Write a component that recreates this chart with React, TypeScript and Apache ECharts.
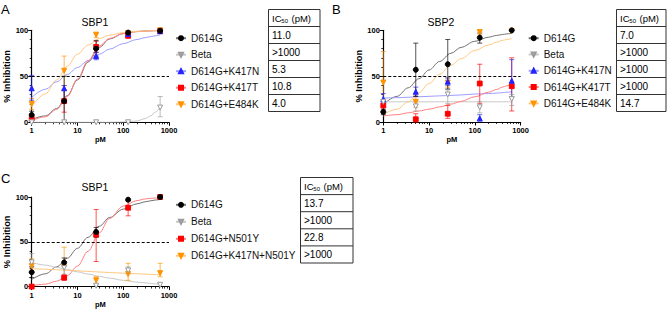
import React, { useEffect, useRef } from "react";
import * as echarts from "echarts";

// ---------- data ----------
const conc = [1, 5.12, 25.6, 128, 640];
const curveX = [1, 2, 3.5, 6, 10, 17, 30, 50, 100, 200, 300, 400, 500, 640];
const xTickLabels = ["1", "10", "100", "1000"];
const yTickLabels = ["0", "50", "100"];

// Panel A – SBP1
const aD614G = [8, 23, 80, 97.5, 99.5];
const aBeta = [0, 0, 0, 0, 16];
const aK417N = [37, 37, 72, 96, 99];
const aK417T = [4, 23, 82, 94, 99];
const aE484K = [20, 56, 95, 97, 100];
const aD614GErr = [[4, 12], [0, 50], [72, 89], [95, 99], null];
const aBetaErr = [null, null, null, null, [6, 28]];
const aK417NErr = [[24, 51], [25, 40], [68, 76], null, null];
const aK417TErr = [[2, 7], [11, 35], [76, 88], [92, 96], null];
const aE484KErr = [[14, 26], [40, 72], [92, 98], null, null];
const aD614GFit = [3, 7, 15, 29, 46, 65.5, 81.5, 90.5, 96.5, 98.7, 99.3, 99.5, 99.7, 99.8];
const aBetaFit = [0, 0, 0, 0, 0, 0, 0, 0, 0.3, 1.5, 4, 7, 11, 16];
const aK417NFit = [27, 36, 44, 52, 59.5, 67, 74, 79.5, 85.5, 90, 92, 93.2, 94, 95];
const aK417TFit = [2, 6, 14, 28, 47, 67, 83, 91, 96.5, 98.5, 99, 99.3, 99.5, 99.6];
const aE484KFit = [17, 31, 46, 61, 74, 84, 91, 94.7, 97.5, 98.9, 99.3, 99.5, 99.6, 99.7];
const aIC50 = ["11.0", ">1000", "5.3", "10.8", "4.0"];

// Panel B – SBP2
const bD614G = [11, 57, 63, 92, 100];
const bBeta = [22, 17, 30, 16, 25];
const bK417N = [25, 33, 44, 4, 45];
const bK417T = [18, 3, 9, 42, 39];
const bE484K = [43, 22, 43, 98, 99];
const bD614GErr = [[8, 14], [28, 86], [36, 90], [86, 97], null];
const bBetaErr = [null, [12, 22], [20, 35], [10, 22], [18, 30]];
const bK417NErr = [[21, 31], [28, 38], [40, 48], [1, 8], [27, 68]];
const bK417TErr = [[12, 23], [0, 9], [4, 18], [20, 63], [12, 70]];
const bE484KErr = [[10, 77], [16, 28], [38, 48], [95, 100], null];
const bD614GFit = [19, 28, 37.3, 47.2, 56.7, 66, 74.9, 81.4, 88, 92.5, 94.4, 95.4, 96.1, 96.7];
const bBetaFit = [22, 22, 22, 22, 22, 22, 22, 22, 22, 22, 22, 22, 22, 22];
const bK417NFit = [26, 26.5, 27, 27.5, 28, 28.5, 29, 29.5, 30.5, 31, 31.5, 32, 32.5, 33];
const bK417TFit = [6.5, 8, 10, 12, 14, 16.5, 19.5, 22.5, 27.5, 32.5, 35.5, 38, 39.5, 41];
const bE484KFit = [8, 14, 22, 32, 42, 52, 62, 69, 78, 84, 87, 89, 90, 91];
const bIC50 = ["7.0", ">1000", ">1000", ">1000", "14.7"];

// Panel C – SBP1
const cD614G = [16, 27, 61, 97, 100];
const cBeta = [27, 21, 1, 18, 2];
const cN501Y = [0, 10, 58, 88, 100];
const cK417NN501Y = [23, 22, 7, 14, 15];
const cD614GErr = [[10, 22], [23, 32], [55, 66], null, null];
const cBetaErr = [[22, 37], [14, 24], null, [14, 22], null];
const cN501YErr = [null, [7, 13], [28, 86], [79, 95], null];
const cK417NN501YErr = [[18, 31], [8, 44], [2, 11], [7, 26], [11, 26]];
const cD614GFit = [8, 14.3, 22, 31.7, 42.7, 55, 67.4, 77, 86.4, 92.4, 94.6, 95.8, 96.6, 97.3];
const cBetaFit = [27, 24, 21.5, 19, 16.5, 14, 11.5, 9.5, 7, 5, 4.2, 3.5, 3, 2.5];
const cN501YFit = [1, 2.7, 6, 12.3, 22.9, 39.4, 60, 76, 89.8, 96, 97.8, 98.5, 98.9, 99.3];
const cK417NN501YFit = [20, 19.4, 18.8, 18.2, 17.6, 17, 16.3, 15.7, 15, 14.3, 13.9, 13.6, 13.3, 12.9];
const cIC50 = ["13.7", ">1000", "22.8", ">1000"];

// ---------- styles ----------
const FONT = '"Liberation Sans", Arial, Helvetica, sans-serif';
const STY: Record<string, any> = {
  black: { mark: "#000000", line: "#707070", symbol: "circle", rotate: 0, fill: "#000000", size: 5 },
  grey: { mark: "#9b9b9b", line: "#c8c8c8", symbol: "triangle", rotate: 180, fill: "#ffffff", size: 5 },
  blue: { mark: "#2424ff", line: "#9d9dff", symbol: "triangle", rotate: 0, fill: "#2424ff", size: 5 },
  red: { mark: "#ff0000", line: "#ff8080", symbol: "rect", rotate: 0, fill: "#ff0000", size: 4.8 },
  orange: { mark: "#ff9300", line: "#ffc880", symbol: "triangle", rotate: 180, fill: "#ff9300", size: 5 },
};

type Variant = { name: string; pts: number[]; err: any[]; fit: number[]; sty: string };

const panels: { title: string; letter: string; variants: Variant[]; ic50: string[] }[] = [
  {
    title: "SBP1",
    letter: "A",
    ic50: aIC50,
    variants: [
      { name: "D614G", pts: aD614G, err: aD614GErr, fit: aD614GFit, sty: "black" },
      { name: "Beta", pts: aBeta, err: aBetaErr, fit: aBetaFit, sty: "grey" },
      { name: "D614G+K417N", pts: aK417N, err: aK417NErr, fit: aK417NFit, sty: "blue" },
      { name: "D614G+K417T", pts: aK417T, err: aK417TErr, fit: aK417TFit, sty: "red" },
      { name: "D614G+E484K", pts: aE484K, err: aE484KErr, fit: aE484KFit, sty: "orange" },
    ],
  },
  {
    title: "SBP2",
    letter: "B",
    ic50: bIC50,
    variants: [
      { name: "D614G", pts: bD614G, err: bD614GErr, fit: bD614GFit, sty: "black" },
      { name: "Beta", pts: bBeta, err: bBetaErr, fit: bBetaFit, sty: "grey" },
      { name: "D614G+K417N", pts: bK417N, err: bK417NErr, fit: bK417NFit, sty: "blue" },
      { name: "D614G+K417T", pts: bK417T, err: bK417TErr, fit: bK417TFit, sty: "red" },
      { name: "D614G+E484K", pts: bE484K, err: bE484KErr, fit: bE484KFit, sty: "orange" },
    ],
  },
  {
    title: "SBP1",
    letter: "C",
    ic50: cIC50,
    variants: [
      { name: "D614G", pts: cD614G, err: cD614GErr, fit: cD614GFit, sty: "black" },
      { name: "Beta", pts: cBeta, err: cBetaErr, fit: cBetaFit, sty: "grey" },
      { name: "D614G+N501Y", pts: cN501Y, err: cN501YErr, fit: cN501YFit, sty: "red" },
      { name: "D614G+K417N+N501Y", pts: cK417NN501Y, err: cK417NN501YErr, fit: cK417NN501YFit, sty: "orange" },
    ],
  },
];

// layout
const GRIDS = [
  { left: 31.7, top: 30.3, width: 137.3, height: 92 },
  { left: 383.3, top: 30.3, width: 137.3, height: 91.7 },
  { left: 31.7, top: 197, width: 137.3, height: 91.3 },
];
const LEGENDS = [
  { left: 175, top: 33.2, gap: 6.5 },
  { left: 527.7, top: 33.2, gap: 6.3 },
  { left: 175, top: 199.8, gap: 7 },
];
const TABLES = [
  { x: 268.5, y: 9.5, w: 51.5, rowH: 17 },
  { x: 616.5, y: 9.5, w: 49.5, rowH: 17 },
  { x: 300.5, y: 177.5, w: 52.5, rowH: 17.1 },
];
const LETTERS = [
  { x: 1, y: 9 },
  { x: 332, y: 9 },
  { x: 1, y: 178 },
];
const TITLES = [
  { x: 95, y: 22 },
  { x: 441, y: 22 },
  { x: 95, y: 187 },
];

function tableElems(t: any, values: string[]) {
  const els: any[] = [];
  const n = values.length + 1;
  els.push({
    type: "rect",
    shape: { x: t.x, y: t.y, width: t.w, height: t.rowH * n },
    style: { fill: "#ffffff", stroke: "#333333", lineWidth: 1 },
    silent: true,
  });
  for (let i = 1; i < n; i++) {
    els.push({
      type: "line",
      shape: { x1: t.x, y1: t.y + t.rowH * i, x2: t.x + t.w, y2: t.y + t.rowH * i },
      style: { stroke: "#333333", lineWidth: 1 },
      silent: true,
    });
  }
  const tx = t.x + 3.5;
  const hy = t.y + t.rowH / 2;
  els.push({ type: "text", silent: true, style: { text: "IC", x: tx, y: hy, fontSize: 9.5, fontFamily: FONT, fill: "#000", verticalAlign: "middle", align: "left" } });
  els.push({ type: "text", silent: true, style: { text: "50", x: tx + 9.3, y: hy + 2.5, fontSize: 6, fontFamily: FONT, fill: "#000", verticalAlign: "middle", align: "left" } });
  els.push({ type: "text", silent: true, style: { text: "(pM)", x: tx + 19.5, y: hy, fontSize: 9.5, fontFamily: FONT, fill: "#000", verticalAlign: "middle", align: "left" } });
  values.forEach((v, i) => {
    els.push({
      type: "text",
      silent: true,
      style: { text: v, x: tx, y: t.y + t.rowH * (i + 1) + t.rowH / 2, fontSize: 10, fontFamily: FONT, fill: "#000", verticalAlign: "middle", align: "left" },
    });
  });
  return els;
}

function buildOption() {
  const grid: any[] = [];
  const xAxis: any[] = [];
  const yAxis: any[] = [];
  const series: any[] = [];
  const legend: any[] = [];
  const graphic: any[] = [];

  panels.forEach((p, i) => {
    grid.push({ ...GRIDS[i], containLabel: false });
    xAxis.push({
      type: "log",
      gridIndex: i,
      logBase: 10,
      min: 1,
      max: 1000,
      name: "pM",
      nameLocation: "middle",
      nameGap: 12.5,
      nameTextStyle: { fontSize: 7.5, fontWeight: "bold", color: "#000", fontFamily: FONT },
      axisLine: { show: true, onZero: false, lineStyle: { color: "#000", width: 1.2 } },
      axisTick: { show: true, inside: false, length: 3.5, lineStyle: { color: "#000", width: 1 } },
      minorTick: { show: true, splitNumber: 9, length: 2, lineStyle: { color: "#000", width: 0.8 } },
      axisLabel: {
        fontSize: 7.5,
        fontWeight: "bold",
        color: "#000",
        margin: 4.5,
        fontFamily: FONT,
        formatter: (v: number) => xTickLabels[Math.round(Math.log10(v))] ?? String(v),
      },
      splitLine: { show: false },
      minorSplitLine: { show: false },
    });
    yAxis.push({
      type: "value",
      gridIndex: i,
      min: 0,
      max: 100,
      interval: 50,
      name: "% Inhibition",
      nameLocation: "middle",
      nameGap: 20,
      nameTextStyle: { fontSize: 9.3, fontWeight: "bold", color: "#000", fontFamily: FONT },
      axisLine: { show: true, onZero: false, lineStyle: { color: "#000", width: 1.2 } },
      axisTick: { show: true, inside: false, length: 3.5, lineStyle: { color: "#000", width: 1 } },
      minorTick: { show: true, splitNumber: 5, length: 2, lineStyle: { color: "#000", width: 0.8 } },
      axisLabel: {
        fontSize: 7.5,
        fontWeight: "bold",
        color: "#000",
        margin: 3.5,
        fontFamily: FONT,
        formatter: (v: number) => yTickLabels[Math.round(v / 50)] ?? String(v),
      },
      splitLine: { show: false },
    });

    const n = p.variants.length;
    // curves (legend icons taken from these: line + marker); earlier datasets on top
    p.variants.forEach((v, k) => {
      const s = STY[v.sty];
      series.push({
        type: "line",
        name: v.name,
        xAxisIndex: i,
        yAxisIndex: i,
        data: curveX.map((x, j) => [x, v.fit[j]]),
        smooth: 0.35,
        smoothMonotone: "x",
        showSymbol: false,
        symbol: s.symbol,
        symbolSize: s.size,
        symbolRotate: s.rotate,
        itemStyle: { color: s.fill, borderColor: s.mark, borderWidth: 1 },
        lineStyle: { color: s.line, width: 1 },
        silent: true,
        z: 2,
        zlevel: 0,
        markLine:
          k === 0
            ? {
                silent: true,
                symbol: "none",
                label: { show: false },
                lineStyle: { type: [3, 2], color: "#000", width: 1.2 },
                data: [{ yAxis: 50 }],
              }
            : undefined,
      });
    });
    // error bars
    p.variants.forEach((v, k) => {
      const s = STY[v.sty];
      const d: any[] = [];
      conc.forEach((x, j) => {
        if (v.err[j]) d.push([x, v.err[j][0], v.err[j][1]]);
      });
      series.push({
        type: "custom",
        name: v.name + " SD",
        xAxisIndex: i,
        yAxisIndex: i,
        data: d,
        encode: { x: 0, y: [1, 2] },
        silent: true,
        z: 3 + (n - k) * 0.01,
        renderItem: (params: any, api: any) => {
          const x = api.value(0);
          const lo = api.coord([x, api.value(1)]);
          const hi = api.coord([x, api.value(2)]);
          const w = 2.5;
          const st = { stroke: s.mark, lineWidth: 0.9, opacity: 0.75 };
          return {
            type: "group",
            children: [
              { type: "line", shape: { x1: lo[0], y1: lo[1], x2: hi[0], y2: hi[1] }, style: st },
              { type: "line", shape: { x1: lo[0] - w, y1: lo[1], x2: lo[0] + w, y2: lo[1] }, style: st },
              { type: "line", shape: { x1: hi[0] - w, y1: hi[1], x2: hi[0] + w, y2: hi[1] }, style: st },
            ],
          };
        },
      });
    });
    // markers (first dataset drawn on top)
    p.variants.forEach((v, k) => {
      const s = STY[v.sty];
      series.push({
        type: "scatter",
        name: v.name,
        xAxisIndex: i,
        yAxisIndex: i,
        data: conc.map((x, j) => [x, v.pts[j]]),
        symbol: s.symbol,
        symbolSize: s.size,
        symbolRotate: s.rotate,
        itemStyle: { color: s.fill, borderColor: s.mark, borderWidth: 1, opacity: 1 },
        silent: true,
        z: 4 + (n - k) * 0.1,
      });
    });

    legend.push({
      orient: "vertical",
      left: LEGENDS[i].left,
      top: LEGENDS[i].top,
      itemWidth: 10,
      itemHeight: 5,
      itemGap: LEGENDS[i].gap,
      selectedMode: false,
      padding: 0,
      data: p.variants.map((v) => v.name),
      textStyle: { fontSize: 10, color: "#111", fontFamily: FONT, lineHeight: 10, padding: [0, 0, 0, 0] },
    });

    graphic.push({
      type: "text",
      silent: true,
      style: { text: p.letter, x: LETTERS[i].x, y: LETTERS[i].y, fontSize: 13, fontFamily: FONT, fill: "#000", verticalAlign: "middle", align: "left" },
    });
    graphic.push({
      type: "text",
      silent: true,
      style: { text: p.title, x: TITLES[i].x, y: TITLES[i].y, fontSize: 10.5, fontFamily: FONT, fill: "#000", verticalAlign: "middle", align: "center" },
    });
    tableElems(TABLES[i], p.ic50).forEach((e) => graphic.push(e));
  });

  return {
    animation: false,
    backgroundColor: "#ffffff",
    textStyle: { fontFamily: FONT },
    grid,
    xAxis,
    yAxis,
    legend,
    series,
    graphic: { elements: graphic },
  };
}

export default function App() {
  const ref = useRef<HTMLDivElement>(null);
  useEffect(() => {
    if (!ref.current) return;
    const chart = echarts.init(ref.current, null, { renderer: "svg" });
    chart.setOption(buildOption() as any);
    return () => chart.dispose();
  }, []);
  return (
    <div
      ref={ref}
      style={{ position: "fixed", left: 0, top: 0, width: 667, height: 309, background: "#fff" }}
    />
  );
}
